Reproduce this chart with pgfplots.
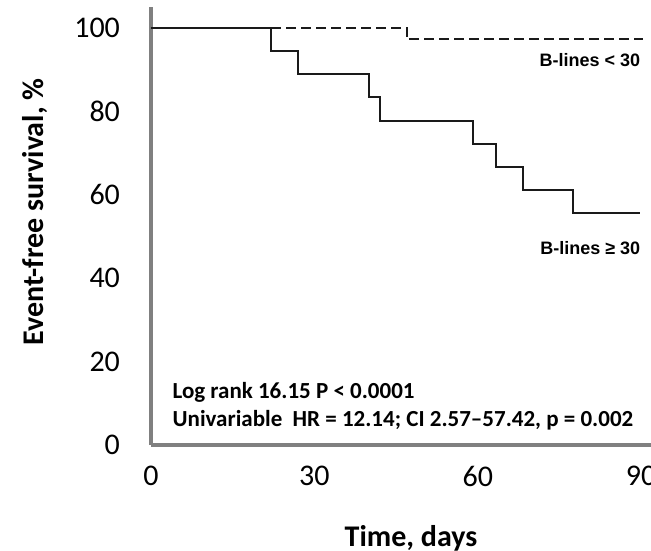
\documentclass[border=0pt]{standalone}
\usepackage{fontspec}
\setmainfont{Carlito}
\newfontfamily\arialf{Liberation Sans}
\usepackage{pgfplots}
\pgfplotsset{compat=1.18}
\definecolor{axgray}{HTML}{808080}
\definecolor{linec}{HTML}{1A1A1A}
\begin{document}
\begin{tikzpicture}[trim axis right]
\begin{axis}[
  scale only axis,
  width=250pt, height=219pt,
  xmin=0, xmax=91.8, ymin=0, ymax=105,
  axis lines=left,
  axis line style={-, draw=axgray, line width=1.75pt},
  xtick={0,30,60,90}, ytick={0,20,40,60,80,100},
  major tick length=0pt,
  /pgf/number format/assume math mode=true,
  tick label style={font=\fontsize{15}{18}\selectfont},
  xticklabel style={yshift=-7pt},
  yticklabel style={xshift=-12pt},
  xlabel={Time, days},
  ylabel={Event-free survival, \%},
  xlabel style={font=\fontsize{15}{18}\selectfont\bfseries, at={(axis description cs:0.52,-0.212)}, anchor=center, inner sep=0pt},
  ylabel style={font=\fontsize{15}{18}\selectfont\bfseries, at={(axis description cs:-0.232,0.532)}, anchor=center, rotate=0, inner sep=0pt},
  clip=false,
]
\path (axis description cs:-0.302,0.5) (axis description cs:0,-0.2374) (axis description cs:0,1.016);
\addplot[const plot, linec, line width=1pt, dash pattern=on 5pt off 2.5pt] coordinates {
  (0,100) (47,97.22) (90.4,97.22)
};
\addplot[const plot, linec, line width=1pt] coordinates {
  (0,100) (22.1,94.44) (27,88.89) (40.1,83.33) (42.1,77.78) (59.2,72.22) (63.4,66.67) (68.3,61.11) (77.4,55.56) (89.7,55.56)
};
\node[anchor=east, font=\arialf\bfseries\fontsize{9}{10}\selectfont, inner sep=0pt] at (axis cs:89.9,92.3) {B-lines < 30};
\node[anchor=east, font=\arialf\bfseries\fontsize{9}{10}\selectfont, inner sep=0pt] at (axis cs:89.9,47.2) {B-lines ≥ 30};
\node[anchor=west, font=\bfseries\fontsize{11.5}{14}\selectfont, inner sep=0pt] at (axis cs:3.9,12.7) {Log rank 16.15 P < 0.0001};
\node[anchor=west, font=\bfseries\fontsize{11.5}{14}\selectfont, inner sep=0pt] at (axis cs:3.9,6) {Univariable\ \ HR = 12.14; CI 2.57–57.42, p = 0.002};
\end{axis}
\end{tikzpicture}
\end{document}
